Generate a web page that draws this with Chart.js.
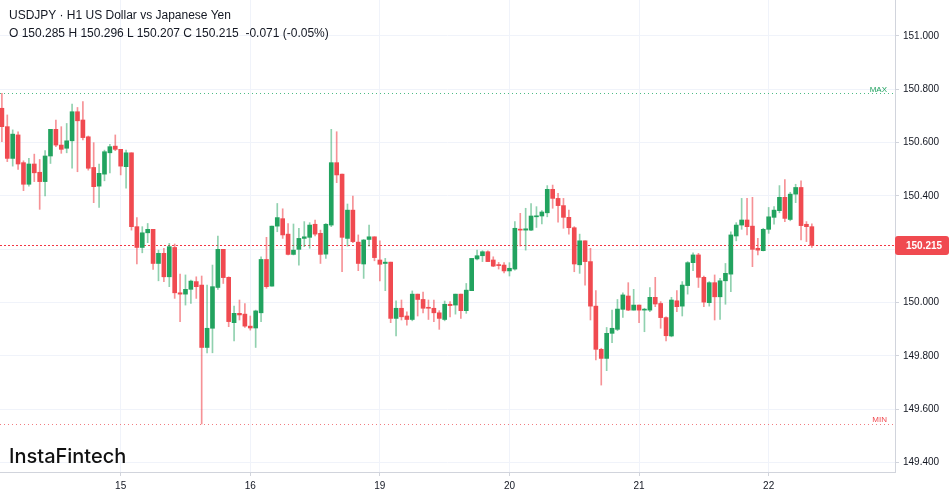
<!DOCTYPE html>
<html>
<head>
<meta charset="utf-8">
<script src="https://cdn.jsdelivr.net/npm/chart.js@4.4.1/dist/chart.umd.min.js"></script>
<style>
html,body{margin:0;padding:0;background:#fff;}
#wrap{position:relative;width:949px;height:494px;overflow:hidden;background:#fff;}
#c{position:absolute;left:0;top:0;}
.hdr{position:absolute;left:9px;font-family:"Liberation Sans",Arial,sans-serif;font-size:12px;line-height:14px;color:#131722;white-space:pre;pointer-events:none;}
#logo{position:absolute;left:9px;top:446px;font-family:Inter,"Open Sans",sans-serif;font-weight:500;font-size:20px;line-height:20px;color:#111;pointer-events:none;}
</style>
</head>
<body>
<div id="wrap">
<canvas id="c" width="949" height="494"></canvas>
<div class="hdr" style="top:7.5px">USDJPY · H1 US Dollar vs Japanese Yen</div>
<div class="hdr" style="top:26px">O 150.285 H 150.296 L 150.207 C 150.215  -0.071 (-0.05%)</div>
<div id="logo">InstaFintech</div>
</div>
<script>
// ---- data (H1 candles) ----
const dayLabels = ['15', '16', '19', '20', '21', '22'];
const firstDayIndex = 22;   // candle index where day "15" starts
const barsPerDay = 24;
const yTicks = [149.4, 149.6, 149.8, 150.0, 150.2, 150.4, 150.6, 150.8, 151.0];

const opens = [
150.729,150.660,150.541,150.629,150.525,150.444,150.520,150.489,150.454,150.550,
150.650,150.591,150.579,150.607,150.716,150.685,150.622,150.507,150.437,150.482,
150.562,150.587,150.575,150.510,150.562,150.285,150.207,150.262,150.275,150.147,
150.185,150.097,150.207,150.037,150.032,150.050,150.079,150.066,149.832,149.904,
150.057,150.200,150.095,149.925,149.960,149.957,149.912,149.905,149.962,150.162,
150.062,150.287,150.315,150.257,150.181,150.200,150.241,150.245,150.294,150.260,
150.182,150.291,150.525,150.482,150.241,150.347,150.227,150.145,150.237,150.247,
150.160,150.147,150.152,149.941,149.979,149.950,149.937,150.032,150.012,149.982,
149.979,149.962,149.937,149.994,149.991,150.032,149.970,150.045,150.164,150.176,
150.191,150.160,150.141,150.141,150.119,150.126,150.275,150.272,150.272,150.322,
150.325,150.337,150.425,150.391,150.364,150.320,150.281,150.142,150.232,150.154,
149.987,149.825,149.791,149.885,149.900,149.975,150.025,149.972,149.991,149.972,
149.972,150.020,149.997,149.944,149.875,150.007,149.987,150.064,150.150,150.179,
150.095,150.000,150.075,150.022,150.082,150.107,150.250,150.291,150.310,150.287,
150.204,150.195,150.275,150.320,150.345,150.395,150.312,150.407,150.432,150.294,
150.285];
const highs = [
150.785,150.704,150.648,150.641,150.532,150.541,150.557,150.537,150.570,150.650,
150.685,150.660,150.672,150.745,150.732,150.754,150.625,150.600,150.520,150.572,
150.594,150.629,150.575,150.572,150.562,150.319,150.285,150.297,150.275,150.197,
150.204,150.222,150.220,150.107,150.104,150.085,150.097,150.100,150.066,150.141,
150.250,150.200,150.097,149.987,150.010,149.997,149.950,149.972,150.172,150.245,
150.287,150.372,150.352,150.297,150.295,150.279,150.304,150.300,150.310,150.272,
150.297,150.650,150.641,150.482,150.370,150.400,150.254,150.237,150.291,150.247,
150.232,150.166,150.152,150.007,150.010,149.966,150.044,150.032,150.040,150.010,
150.010,149.970,150.006,150.004,150.032,150.032,150.072,150.166,150.197,150.195,
150.194,150.172,150.151,150.150,150.150,150.304,150.335,150.354,150.372,150.360,
150.345,150.439,150.441,150.410,150.391,150.347,150.285,150.257,150.232,150.204,
150.045,149.829,149.907,149.972,150.012,150.037,150.075,150.050,149.991,149.979,
150.057,150.095,150.004,149.947,150.020,150.045,150.079,150.154,150.187,150.185,
150.100,150.079,150.104,150.091,150.147,150.266,150.300,150.391,150.391,150.395,
150.241,150.279,150.357,150.360,150.439,150.462,150.414,150.444,150.457,150.304,
150.296];
const lows = [
150.604,150.529,150.512,150.500,150.420,150.437,150.454,150.350,150.400,150.522,
150.585,150.560,150.562,150.504,150.491,150.610,150.497,150.375,150.357,150.457,
150.487,150.570,150.479,150.429,150.272,150.145,150.187,150.225,150.125,150.082,
150.079,150.060,150.016,149.929,149.991,149.997,150.016,149.545,149.812,149.812,
150.050,150.072,149.910,149.857,149.935,149.907,149.897,149.832,149.929,150.054,
150.062,150.266,150.241,150.179,150.179,150.141,150.210,150.204,150.250,150.147,
150.166,150.285,150.450,150.116,150.212,150.225,150.120,150.091,150.212,150.157,
150.082,150.045,149.925,149.875,149.935,149.916,149.932,149.950,149.962,149.937,
149.929,149.900,149.932,149.947,149.957,149.941,149.960,150.045,150.160,150.154,
150.154,150.135,150.126,150.112,150.100,150.122,150.212,150.197,150.270,150.282,
150.295,150.322,150.354,150.302,150.279,150.257,150.116,150.110,150.066,149.935,
149.785,149.691,149.745,149.850,149.895,149.945,149.970,149.972,149.925,149.891,
149.966,149.985,149.904,149.857,149.872,149.966,149.950,150.032,150.120,150.057,
149.985,149.987,149.935,149.937,149.994,150.041,150.232,150.275,150.254,150.135,
150.179,150.194,150.260,150.294,150.337,150.304,150.307,150.375,150.235,150.229,
150.207];
const closes = [
150.660,150.541,150.632,150.520,150.444,150.520,150.487,150.454,150.550,150.650,
150.591,150.575,150.607,150.716,150.682,150.619,150.504,150.435,150.485,150.566,
150.585,150.575,150.512,150.562,150.285,150.207,150.262,150.275,150.147,150.185,
150.097,150.210,150.037,150.032,150.050,150.081,150.060,149.832,149.904,150.060,
150.200,150.094,149.929,149.960,149.954,149.912,149.905,149.969,150.162,150.060,
150.287,150.319,150.254,150.181,150.197,150.241,150.247,150.291,150.257,150.181,
150.294,150.525,150.479,150.245,150.347,150.229,150.147,150.235,150.247,150.169,
150.144,150.152,149.941,149.979,149.947,149.937,150.032,150.012,149.979,149.979,
149.962,149.941,149.994,149.989,150.032,149.970,150.047,150.166,150.176,150.191,
150.154,150.137,150.139,150.119,150.129,150.279,150.272,150.277,150.325,150.325,
150.340,150.425,150.391,150.364,150.320,150.281,150.145,150.232,150.154,149.987,
149.825,149.791,149.885,149.904,149.976,150.029,149.972,149.991,149.972,149.975,
150.020,149.995,149.944,149.876,150.010,149.985,150.066,150.150,150.179,150.095,
150.002,150.075,150.022,150.082,150.110,150.254,150.291,150.310,150.285,150.200,
150.197,150.275,150.322,150.347,150.395,150.316,150.407,150.432,150.289,150.285,
150.215];

// ---- styling ----
const UP = '#22a35f', DOWN = '#f04a50';
const UP_WICK = 'rgba(34,163,95,0.5)', DOWN_WICK = 'rgba(240,74,80,0.6)';
const GRID = '#f0f3fa', AXIS = '#d1d4dc', TEXT = '#131722';

const idx = opens.map((_, i) => i);
const isUp = idx.map(i => closes[i] >= opens[i]);
const bodyData = idx.map(i => ({ x: i, y: [opens[i], closes[i]] }));
const wickData = idx.map(i => ({ x: i, y: [lows[i], highs[i]] }));
const dayTickValues = dayLabels.map((_, d) => firstDayIndex + d * barsPerDay);

function fmt(v) { return v.toFixed(3); }

const overlay = {
  id: 'overlay',
  beforeDatasetsDraw(chart) {
    const { ctx, chartArea: a, scales: { y } } = chart;
    const hi = Math.max(...highs), lo = Math.min(...lows), last = closes[closes.length - 1];
    ctx.save();
    ctx.lineWidth = 1;
    const hline = (v, color, dash) => {
      const py = Math.round(y.getPixelForValue(v)) + 0.5;
      ctx.strokeStyle = color; ctx.setLineDash(dash);
      ctx.beginPath(); ctx.moveTo(a.left, py); ctx.lineTo(a.right, py); ctx.stroke();
      return py;
    };
    const pyMax = hline(hi, '#4cbb84', [1, 3]);
    const pyMin = hline(lo, '#f27c80', [1, 3]);
    hline(last, '#f23645', [2, 2]);
    ctx.setLineDash([]);
    ctx.font = '8px "Liberation Sans", Arial, sans-serif';
    ctx.textAlign = 'right'; ctx.textBaseline = 'alphabetic';
    ctx.fillStyle = '#22a35f'; ctx.fillText('MAX', a.right - 8, pyMax - 2);
    ctx.fillStyle = '#f04a50'; ctx.fillText('MIN', a.right - 8, pyMin - 3);
    ctx.restore();
  },
  afterDraw(chart) {
    const { ctx, chartArea: a, scales: { y } } = chart;
    const last = closes[closes.length - 1];
    const py = y.getPixelForValue(last);
    ctx.save();
    const x0 = a.right, w = chart.width - a.right, h = 19, y0 = Math.round(py - h / 2);
    ctx.fillStyle = DOWN;
    ctx.beginPath();
    ctx.roundRect(x0, y0, w, h, 3);
    ctx.fill();
    ctx.fillStyle = '#fff';
    ctx.font = 'bold 10px "Liberation Sans", Arial, sans-serif';
    ctx.textAlign = 'left'; ctx.textBaseline = 'middle';
    ctx.fillText(fmt(last), x0 + 11, py + 0.5);
    ctx.restore();
  }
};

new Chart(document.getElementById('c'), {
  type: 'bar',
  data: {
    datasets: [
      {
        label: 'body', data: bodyData, order: 0, grouped: false,
        backgroundColor: idx.map(i => isUp[i] ? UP : DOWN),
        barThickness: 4, minBarLength: 1, borderWidth: 0
      },
      {
        label: 'wick', data: wickData, order: 1, grouped: false,
        backgroundColor: idx.map(i => isUp[i] ? UP_WICK : DOWN_WICK),
        barThickness: 1, borderWidth: 0
      }
    ]
  },
  options: {
    responsive: false,
    animation: false,
    devicePixelRatio: 1,
    layout: { padding: 0 },
    plugins: { legend: { display: false }, tooltip: { enabled: false } },
    scales: {
      x: {
        type: 'linear', min: -0.35, max: 165.4, offset: false,
        afterBuildTicks: s => { s.ticks = dayTickValues.map(v => ({ value: v })); },
        ticks: {
          callback: (v) => { const d = dayTickValues.indexOf(v); return d >= 0 ? dayLabels[d] : ''; },
          color: TEXT, font: { size: 10, family: '"Liberation Sans", Arial, sans-serif' },
          padding: 4, maxRotation: 0, autoSkip: false
        },
        grid: { color: GRID, tickLength: 4, tickColor: AXIS, offset: false },
        border: { color: AXIS },
        afterFit: s => { s.height = 22; s.paddingLeft = 0; s.paddingRight = 0; s.paddingTop = 0; s.paddingBottom = 0; }
      },
      y: {
        position: 'right', min: 149.365, max: 151.135,
        afterBuildTicks: s => { s.ticks = yTicks.map(v => ({ value: v })); },
        ticks: {
          callback: v => fmt(v),
          color: TEXT, font: { size: 10, family: '"Liberation Sans", Arial, sans-serif' },
          padding: 4
        },
        grid: { color: GRID, tickLength: 4, tickColor: AXIS },
        border: { color: AXIS },
        afterFit: s => { s.width = 54; s.paddingLeft = 0; s.paddingRight = 0; s.paddingTop = 0; s.paddingBottom = 0; }
      }
    }
  },
  plugins: [overlay]
});
</script>
</body>
</html>
